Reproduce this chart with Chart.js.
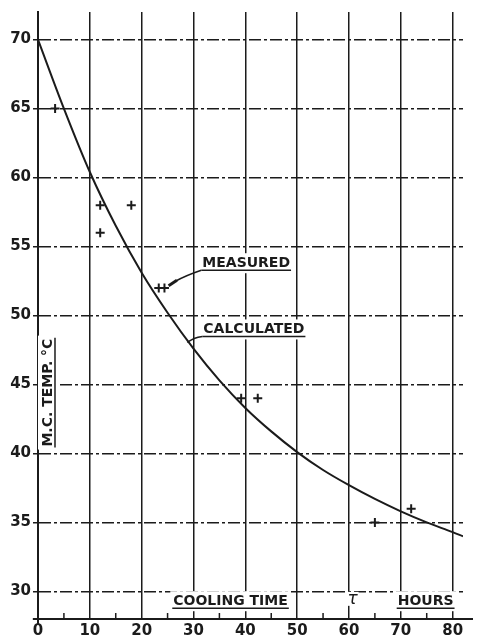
<!DOCTYPE html>
<html>
<head>
<meta charset="utf-8">
<script src="https://cdn.jsdelivr.net/npm/chart.js@4"></script>
<style>
html, body { margin: 0; padding: 0; background: #fff; }
</style>
</head>
<body>
<canvas id="chart" width="480" height="639"></canvas>
<script>
// calculated cooling curve
const hours = [0, 5, 10, 15, 20, 25, 30, 35, 40, 45, 50, 55, 60, 65, 70, 75, 80, 82]
const calculated = [70, 65, 60.4, 56.5, 53.1, 50.2, 47.6, 45.3, 43.3, 41.6, 40.1, 38.8, 37.7, 36.7, 35.8, 35.0, 34.3, 34.0]

// measured points (the little crosses)
const measuredHours = [3.3, 12, 12, 18, 23.3, 24.4, 39.2, 42.4, 65, 72]
const measuredTemp = [65, 58, 56, 58, 52, 52, 44, 44, 35, 36]

const xTickValues = [0, 10, 20, 30, 40, 50, 60, 70, 80]
const xMinorTicks = [5, 15, 25, 35, 45, 55, 65, 75]
const yTickValues = [30, 35, 40, 45, 50, 55, 60, 65, 70]

const ink = '#1b1b1b'
const lettering = '"DejaVu Sans", sans-serif'

function textWithUnderline(ctx, text, x, y, size) {
  ctx.font = 'bold ' + size + 'px ' + lettering
  ctx.textAlign = 'left'
  ctx.textBaseline = 'alphabetic'
  const w = ctx.measureText(text).width
  ctx.fillStyle = '#fff'
  ctx.fillRect(x - 3, y - size, w + 6, size + 6)
  ctx.fillStyle = ink
  ctx.fillText(text, x, y)
  ctx.beginPath()
  ctx.moveTo(x - 1, y + 3)
  ctx.lineTo(x + w + 1, y + 3)
  ctx.stroke()
  return w
}

const paperPlugin = {
  id: 'paper',
  beforeDraw(chart) {
    const ctx = chart.ctx
    ctx.save()
    ctx.fillStyle = '#fff'
    ctx.fillRect(0, 0, chart.width, chart.height)
    ctx.restore()
  },
  afterDatasetsDraw(chart) {
    const ctx = chart.ctx
    const xs = chart.scales.x, ys = chart.scales.y
    const X = v => xs.getPixelForValue(v)
    const Y = v => ys.getPixelForValue(v)
    ctx.save()
    ctx.strokeStyle = ink
    ctx.fillStyle = ink

    // axis stubs past the corner
    ctx.lineWidth = 2
    ctx.beginPath()
    ctx.moveTo(X(-1), Y(28))
    ctx.lineTo(chart.chartArea.right + 10, Y(28))
    ctx.moveTo(X(0), Y(28))
    ctx.lineTo(X(0), Y(28) + 6)
    ctx.stroke()

    // minor ticks on the time axis
    ctx.lineWidth = 1.5
    ctx.beginPath()
    xMinorTicks.forEach(v => {
      ctx.moveTo(X(v), Y(28))
      ctx.lineTo(X(v), Y(28) - 6)
    })
    ctx.stroke()

    ctx.lineWidth = 1.5
    // MEASURED with leader to the double cross
    const mx = X(31.7), my = Y(53.5)
    textWithUnderline(ctx, 'MEASURED', mx, my, 14)
    ctx.beginPath()
    ctx.moveTo(mx - 1, my + 3)
    ctx.quadraticCurveTo(X(28.5), Y(52.9), X(26.6), Y(52.5))
    ctx.stroke()
    ctx.lineWidth = 3
    ctx.beginPath()
    ctx.moveTo(X(26.8), Y(52.55))
    ctx.lineTo(X(25.2), Y(52.15))
    ctx.stroke()

    // CALCULATED with leader to the curve
    ctx.lineWidth = 1.5
    const cx = X(31.9), cy = Y(48.7)
    textWithUnderline(ctx, 'CALCULATED', cx, cy, 14)
    ctx.beginPath()
    ctx.moveTo(cx - 1, cy + 3)
    ctx.quadraticCurveTo(X(30), Y(48.4), X(28.8), Y(48.05))
    ctx.stroke()

    // time axis caption
    textWithUnderline(ctx, 'COOLING TIME', X(26.1), Y(29), 14)
    textWithUnderline(ctx, 'HOURS', X(69.4), Y(29), 14)
    ctx.font = 'italic 17px ' + lettering
    ctx.textAlign = 'center'
    ctx.fillStyle = '#fff'
    ctx.fillRect(X(60.7) - 6, Y(29.1) - 12, 12, 14)
    ctx.fillStyle = ink
    ctx.fillText('τ', X(60.7), Y(29.1))

    // temperature caption, written upwards
    ctx.save()
    ctx.translate(X(2.7), Y(40.5))
    ctx.rotate(-Math.PI / 2)
    textWithUnderline(ctx, 'M.C. TEMP. °C', 0, 0, 14)
    ctx.restore()

    ctx.restore()
  }
}

const ctx = document.getElementById('chart').getContext('2d')

const myChart = new Chart(ctx, {
  type: 'scatter',
  data: {
    datasets: [{
      label: 'Calculated',
      type: 'line',
      data: hours.map((h, i) => ({ x: h, y: calculated[i] })),
      borderColor: ink,
      borderWidth: 2,
      pointRadius: 0,
      cubicInterpolationMode: 'monotone',
      fill: false
    }, {
      label: 'Measured',
      data: measuredHours.map((h, i) => ({ x: h, y: measuredTemp[i] })),
      pointStyle: 'cross',
      pointRadius: 4.5,
      borderColor: ink,
      backgroundColor: ink,
      borderWidth: 2
    }]
  },
  options: {
    responsive: false,
    animation: false,
    layout: { padding: { top: 12, right: 17, left: 0, bottom: 0 } },
    plugins: {
      legend: { display: false },
      tooltip: { enabled: false }
    },
    scales: {
      x: {
        type: 'linear',
        min: 0,
        max: 82,
        afterBuildTicks: s => { s.ticks = xTickValues.map(v => ({ value: v })) },
        afterFit: s => { s.height = 20 },
        grid: { color: ink, lineWidth: 1.5, drawTicks: false },
        border: { display: true, color: ink, width: 2 },
        ticks: {
          color: ink,
          padding: 3,
          maxRotation: 0,
          font: { family: lettering, size: 15, weight: 'bold' }
        }
      },
      y: {
        min: 28,
        max: 72,
        afterBuildTicks: s => { s.ticks = yTickValues.map(v => ({ value: v })) },
        afterFit: s => { s.width = 38 },
        grid: { color: ink, lineWidth: 1.5, tickLength: 5 },
        border: { display: true, color: ink, width: 2, dash: [12, 3, 3, 3] },
        ticks: {
          color: ink,
          padding: 2,
          font: { family: lettering, size: 15, weight: 'bold' }
        }
      }
    }
  },
  plugins: [paperPlugin]
})
</script>
</body>
</html>
